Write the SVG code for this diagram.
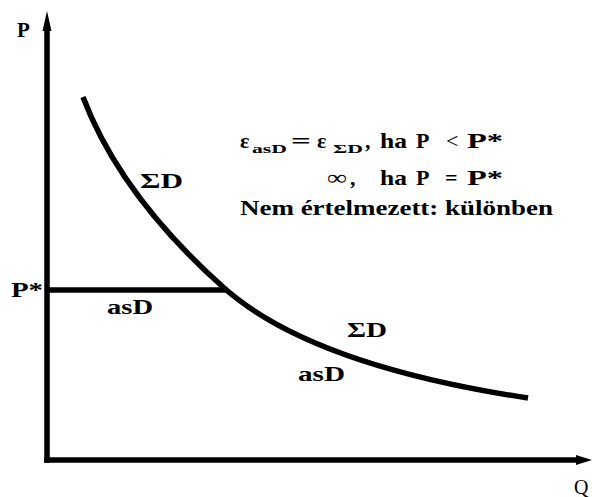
<svg xmlns="http://www.w3.org/2000/svg" width="594" height="497" viewBox="0 0 594 497">
<style>
.t{font-family:'Liberation Serif','Times New Roman','DejaVu Serif',serif;font-weight:700;fill:#000}
.n{font-weight:400}
.ln{stroke:#000;stroke-width:5.5;fill:none}
</style>
<rect width="594" height="497" fill="#fff"/>
<g id="axes">
<line class="ln" x1="47" y1="28" x2="47" y2="462.75"/>
<line class="ln" x1="44.25" y1="460" x2="578" y2="460"/>
<polygon points="47,11 51.5,31 42.5,31" fill="#000"/>
<polygon points="592,460 576,455 576,465" fill="#000"/>
<text class="t" x="17" y="37" font-size="21">P</text>
<text class="t n" x="574" y="494" font-size="20">Q</text>
</g>
<g id="connectors">
<path class="ln" d="M83,97 Q120,195 223,287 Q310,365 528,398"/>
<line class="ln" x1="47" y1="290" x2="226" y2="290"/>
</g>
<g id="labels">
<text class="t" x="11" y="297" font-size="21" textLength="32" lengthAdjust="spacingAndGlyphs">P*</text>
<text class="t" x="107" y="314" font-size="21" textLength="46" lengthAdjust="spacingAndGlyphs">asD</text>
<text class="t" x="140" y="188" font-size="21" textLength="43" lengthAdjust="spacingAndGlyphs">ΣD</text>
<text class="t" x="347" y="337" font-size="21" textLength="40" lengthAdjust="spacingAndGlyphs">ΣD</text>
<text class="t" x="298" y="381" font-size="21" textLength="47" lengthAdjust="spacingAndGlyphs">asD</text>
</g>
<g id="formula">
<text class="t" x="240" y="148" font-size="22">ε</text>
<text class="t" x="252" y="153" font-size="13" textLength="35" lengthAdjust="spacingAndGlyphs">asD</text>
<text class="t" x="291" y="148" font-size="22" textLength="20" lengthAdjust="spacingAndGlyphs">=</text>
<text class="t" x="317" y="148" font-size="22">ε</text>
<text class="t" x="333" y="153" font-size="13" textLength="30" lengthAdjust="spacingAndGlyphs">ΣD</text>
<text class="t" x="365" y="148" font-size="22">,</text>
<text class="t" x="380" y="148" font-size="22" textLength="27" lengthAdjust="spacingAndGlyphs">ha</text>
<text class="t" x="416" y="148" font-size="22">P</text>
<text class="t n" x="446" y="148" font-size="22">&lt;</text>
<text class="t" x="467" y="148" font-size="22" textLength="36" lengthAdjust="spacingAndGlyphs">P*</text>
<text class="t n" x="327" y="185" font-size="22" textLength="20" lengthAdjust="spacingAndGlyphs">∞</text>
<text class="t" x="350" y="185" font-size="22">,</text>
<text class="t" x="380" y="185" font-size="22" textLength="27" lengthAdjust="spacingAndGlyphs">ha</text>
<text class="t" x="416" y="185" font-size="22">P</text>
<text class="t" x="445" y="185" font-size="22">=</text>
<text class="t" x="467" y="185" font-size="22" textLength="36" lengthAdjust="spacingAndGlyphs">P*</text>
<text class="t" x="240" y="215" font-size="20" textLength="313" lengthAdjust="spacingAndGlyphs">Nem értelmezett: különben</text>
</g>
</svg>
